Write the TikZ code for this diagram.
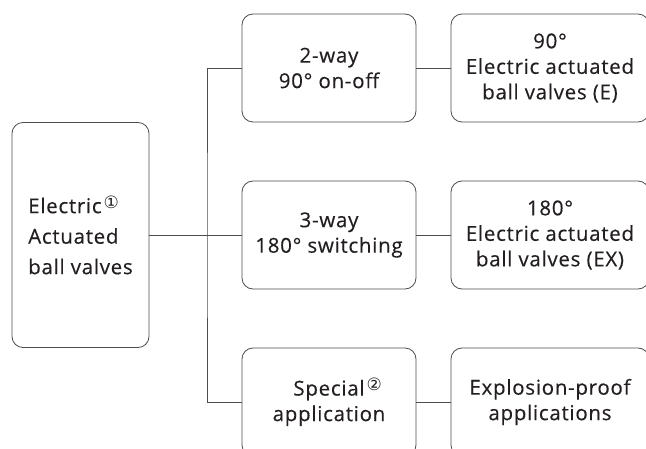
\documentclass[tikz,border=0pt]{standalone}
\usepackage{fontspec}
\setmainfont[LetterSpace = 3.5, FakeBold = 0.3]{Open Sans}
\newfontfamily\circfont{DejaVu Sans}
\definecolor{ink}{HTML}{231F20}
\definecolor{wire}{HTML}{4D4D4D}
\newcommand{\circnum}[1]{\rlap{\hspace{2pt}\raisebox{5pt}{\circfont\fontsize{17}{17}\selectfont #1}}}

\begin{document}
\begin{tikzpicture}[x = 1pt, y = -1pt,
	box/.style = {draw = wire, line width = 0.8pt, rounded corners = 11pt, inner sep = 0pt, align = center, text = ink, font = \fontsize{20.5}{25.5}\selectfont},
	link/.style = {draw = wire, line width = 0.8pt}]
	%	page setup
	\useasboundingbox (0, 0) rectangle (646, 449);
	
	\def\rowa{68}
	\def\rowb{235}
	\def\rowc{402}
	
	\def\colm{329}
	\def\colr{550}
	
	%	root
	\node[box, align = left, minimum width = 137pt, minimum height = 225pt] (root) at (80.5, \rowb) {Electric\circnum{①}\\[5pt]Actuated\\[5pt]ball valves};
	
	%	type of valve
	\node[box, minimum width = 174pt, minimum height = 108pt] (twoway) at (\colm, \rowa) {2-way\\90° on-off};
	\node[box, minimum width = 174pt, minimum height = 108pt] (threeway) at (\colm, \rowb) {3-way\\180° switching};
	\node[box, minimum width = 174pt, minimum height = 108pt] (special) at (\colm, \rowc) {Special\circnum{②}\\application};
	
	%	product
	\node[box, minimum width = 198pt, minimum height = 108pt] (ninety) at (\colr, \rowa) {90°\\Electric actuated\\ball valves (E)};
	\node[box, minimum width = 198pt, minimum height = 108pt] (oneeighty) at (\colr, \rowb) {180°\\Electric actuated\\ball valves (EX)};
	\node[box, minimum width = 198pt, minimum height = 108pt] (exproof) at (\colr, \rowc) {Explosion-proof\\applications};
	
	%	tree lines
	\coordinate (split) at (207, \rowb);
	\draw[link] (root.east) -- (threeway.west);
	\draw[link] (twoway.west) -| (split) |- (special.west);
	\draw[link] (twoway.east) -- (ninety.west);
	\draw[link] (threeway.east) -- (oneeighty.west);
	\draw[link] (special.east) -- (exproof.west);
\end{tikzpicture}
\end{document}
